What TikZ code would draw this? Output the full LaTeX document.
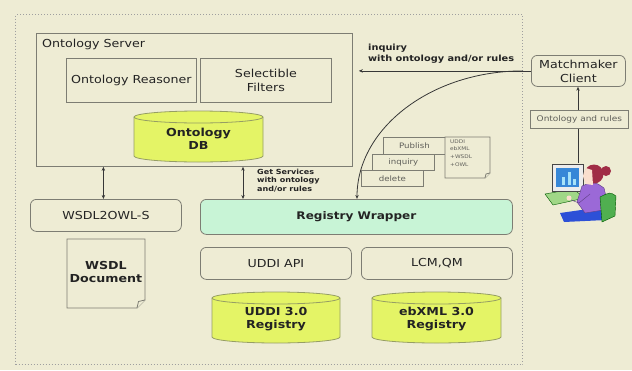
\documentclass[tikz,border=0pt]{standalone}
\usepackage{fontspec}
\setmainfont[FakeStretch=1.15]{DejaVu Sans}
\usetikzlibrary{arrows.meta}

\definecolor{bg}{RGB}{238,236,212}
\definecolor{lc}{RGB}{125,125,115}
\definecolor{ac}{RGB}{55,55,55}
\definecolor{tc}{RGB}{35,35,35}
\definecolor{lt}{RGB}{95,95,90}
\definecolor{dbfill}{RGB}{228,244,102}
\definecolor{dbline}{RGB}{150,158,100}
\definecolor{mint}{RGB}{200,244,214}
\definecolor{hair}{RGB}{160,45,70}
\definecolor{skin}{RGB}{250,222,205}
\definecolor{shirt}{RGB}{155,105,215}
\definecolor{pants}{RGB}{45,80,215}
\definecolor{chair}{RGB}{80,175,80}
\definecolor{desk}{RGB}{160,215,135}
\definecolor{screen}{RGB}{55,135,215}

% database drum: name, left x, right x, top y, bottom y, text
\newcommand{\dbdrum}[6]{%
  \pgfmathsetmacro\drx{(#3-#2)/2}%
  \pgfmathsetmacro\dcx{(#2+#3)/2}%
  \pgfmathsetmacro\dcy{-(#4+#5)/2-2}%
  \filldraw[fill=dbfill, draw=dbline, line width=0.8pt]
    (#2,-#4-6) -- (#2,-#5+6) arc[start angle=180, end angle=360, x radius=\drx, y radius=6]
    -- (#3,-#4-6) arc[start angle=0, end angle=180, x radius=\drx, y radius=6] -- cycle;
  \draw[draw=dbline, line width=0.8pt] (#2,-#4-6) arc[start angle=180, end angle=360, x radius=\drx, y radius=6];
  \node[dbtext] (#1) at (\dcx,\dcy) {#6};
}

\tikzset{
  bx/.style={draw=lc, line width=0.8pt, inner sep=0pt, anchor=north west, text=tc,
             font=\fontsize{11}{14}\selectfont, align=center},
  rbx/.style={bx, rounded corners=6pt},
  card/.style={bx, fill=bg, text=lt, font=\fontsize{7.5}{9}\selectfont},
  dbtext/.style={font=\bfseries\fontsize{11}{13}\selectfont, text=tc, align=center, inner sep=0pt},
  arr/.style={draw=ac, line width=0.8pt, -{Stealth[length=4pt,width=3.4pt]}},
  darr/.style={draw=ac, line width=0.8pt, {Stealth[length=4pt,width=3.4pt]}-{Stealth[length=4pt,width=3.4pt]}},
  note/.style={font=\bfseries\fontsize{7}{8.3}\selectfont, text=tc, align=left, inner sep=0pt, anchor=north west},
  page/.style={draw=lc, line width=0.8pt, fill=bg},
}

\begin{document}
\begin{tikzpicture}[x=1pt,y=1pt]
\fill[bg] (0,0) rectangle (632,-370);
\useasboundingbox (0,0) rectangle (632,-370);

% dotted frame around the server side
\node[bx, draw=gray!75, dash pattern=on 1pt off 2pt, line width=1pt,
      minimum width=507pt, minimum height=350pt] (frame) at (15,-14) {};

% ontology server
\node[bx, minimum width=316pt, minimum height=133pt] (osrv) at (36,-33) {};
\node[anchor=base west, inner sep=0pt, text=tc, font=\fontsize{11}{14}\selectfont] (ostitle) at (42,-47) {Ontology Server};
\node[bx, minimum width=130pt, minimum height=44pt] (oreas) at (66,-58) {Ontology Reasoner};
\node[bx, minimum width=131pt, minimum height=44pt] (sfil) at (200,-58) {Selectible\\Filters};
\dbdrum{odb}{134}{263}{111}{162}{Ontology\\DB}

% lower left: translator and document
\node[rbx, minimum width=151pt, minimum height=32pt] (w2o) at (30,-199) {WSDL2OWL-S};
\draw[page] (67,-239) -- (145,-239) -- (145,-300) -- (137,-308) -- (67,-308) -- cycle;
\draw[page] (137,-308) -- (138.5,-301.5) -- (145,-300);
\node[dbtext] (wdoc) at (106,-272) {WSDL\\Document};

% registry side
\node[rbx, fill=mint, minimum width=312pt, minimum height=35pt, font=\bfseries\fontsize{10.5}{13}\selectfont] (rw) at (200,-199) {Registry Wrapper};
\node[rbx, minimum width=151pt, minimum height=32pt] (uapi) at (200,-247) {UDDI API};
\node[rbx, minimum width=151pt, minimum height=32pt] (lcm) at (361,-247) {LCM,QM};
\dbdrum{uddi}{212}{340}{292}{343}{UDDI 3.0\\Registry}
\dbdrum{ebxml}{372}{501}{292}{343}{ebXML 3.0\\Registry}

% server to lower components
\coordinate (a1) at ([xshift=-2.5pt]w2o.north);
\coordinate (a2) at ([xshift=43pt]rw.north west);
\draw[darr] (a1 |- osrv.south) -- (a1);
\draw[darr] (a2 |- osrv.south) -- (a2);
\node[note] (getsvc) at (257,-169) {Get Services\\with ontology\\and/or rules};

% client side
\node[rbx, minimum width=94pt, minimum height=31pt] (mm) at (531,-55) {Matchmaker\\Client};
\coordinate (cs) at (frame.east |- mm.west);
\draw[arr] (mm.west) -- ([xshift=6pt]mm.west -| osrv.east);
\node[note, font=\bfseries\fontsize{8.5}{11}\selectfont] (inqtxt) at (368,-44) {inquiry\\with ontology and/or rules};
\draw[arr] (cs) arc[start angle=90, end angle=180, x radius=166, y radius=128];

% operations and description formats
\node[card, minimum width=62pt, minimum height=17pt] (pub) at (383,-137) {Publish};
\node[card, minimum width=62pt, minimum height=16pt] (inq) at (372,-154) {inquiry};
\node[card, minimum width=62pt, minimum height=16pt] (del) at (361,-170) {delete};
\draw[page] (445,-137) -- (490,-137) -- (490,-173) -- (485,-178) -- (445,-178) -- cycle;
\draw[page] (485,-178) -- (486,-174) -- (490,-173);
\node[note, font=\fontsize{5}{7.6}\selectfont, text=lt] (fmt) at (450,-139.5) {UDDI\\ebXML\\+WSDL\\+OWL};

% user at workstation
\coordinate (pc) at (578,-163);
\node[bx, fill=bg, minimum width=98pt, minimum height=18pt, text=lt, font=\fontsize{7.8}{9}\selectfont] (onr) at (530,-110) {Ontology and rules};
\draw[ac, line width=0.8pt] (pc) -- (pc |- onr.south);
\draw[arr] (pc |- onr.north) -- (pc |- mm.south);

% workstation drawing
\filldraw[fill=desk, draw=green!35!black, line width=0.4pt] (545,-194) -- (573,-189) -- (585,-198) -- (553,-205) -- cycle;
\filldraw[fill=gray!15, draw=gray!55!black, line width=0.5pt] (552,-164) rectangle (583,-191);
\fill[screen] (556,-168) rectangle (579,-187);
\fill[cyan!35] (562,-185) rectangle (565,-177);
\fill[cyan!35] (567.5,-185) rectangle (570.5,-172);
\fill[cyan!35] (573,-185) rectangle (576,-179);
\fill[pants] (560,-213) -- (602,-207) -- (606,-220) -- (564,-222) -- cycle;
\filldraw[fill=shirt, draw=shirt!60!black, line width=0.4pt] (582,-186) .. controls (594,-181) .. (604,-188) -- (609,-209) -- (585,-213) -- (577,-202) -- cycle;
\draw[shirt!60!black, line width=0.4pt] (590,-194) -- (579,-203) -- (571,-200);
\fill[skin] (569,-198) circle (2.5);
\fill[hair] (594,-174) circle (9.5);
\fill[hair] (606,-171) circle (5);
\fill[skin] (586,-168) .. controls (582,-176) .. (586,-184) -- (593,-185) -- (592,-170) -- cycle;
\filldraw[fill=chair, draw=green!35!black, line width=0.4pt] (600,-197) .. controls (610,-192) .. (616,-196) -- (615,-216) -- (602,-222) -- cycle;
\end{tikzpicture}
\end{document}
